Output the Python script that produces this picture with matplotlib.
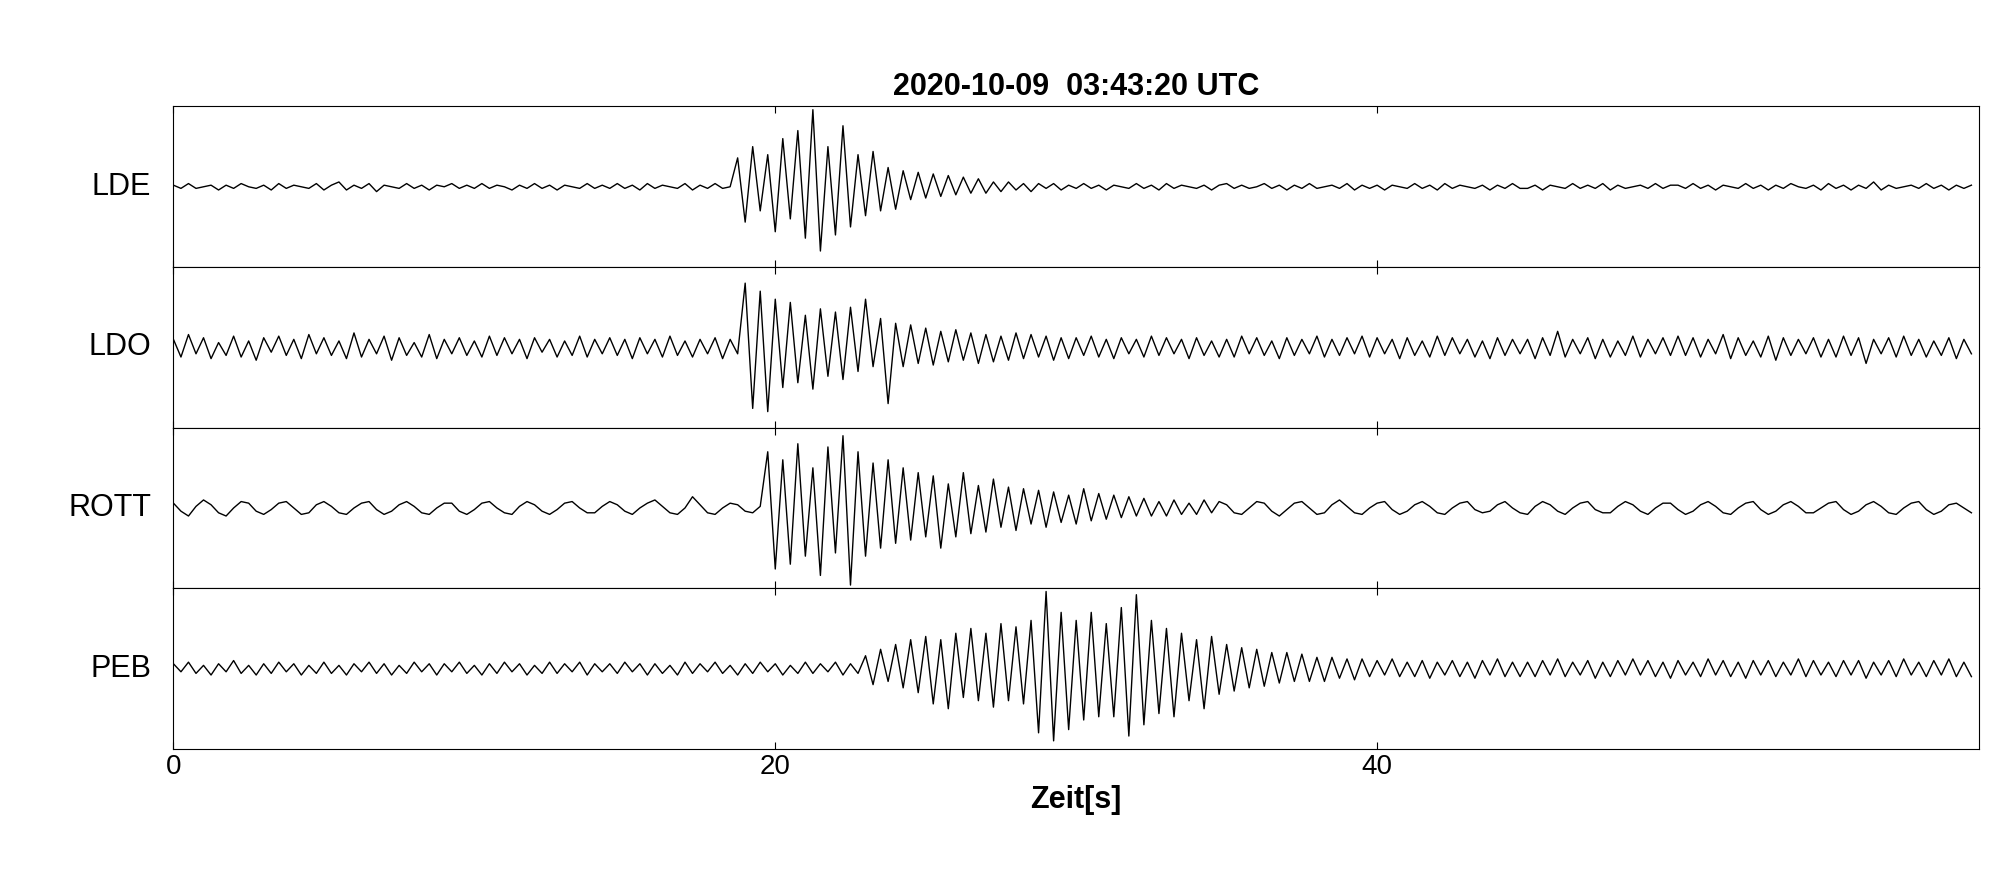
import numpy as np
import matplotlib
matplotlib.use("Agg")
from matplotlib import pyplot as plt

plt.rcParams['font.family'] = ['Liberation Sans', 'DejaVu Sans']

dt = 0.25
stations = ["LDE", "LDO", "ROTT", "PEB"]
title = "2020-10-09  03:43:20 UTC"
xticks = [0, 20, 40]

lde = """
1 -1 2 -1 0 1 -2 1 -1 2 0 -1 1 -2 2 -1 1 0 -1 2
-2 1 3 -2 1 -1 2 -3 1 0 -1 2 -1 1 -2 1 0 2 -1 1
-1 2 -1 1 0 -2 1 -1 2 -1 1 -2 1 0 -1 2 -1 1 -1 2
-1 1 -2 2 -1 1 0 -1 2 -2 1 -1 2 -1 0 18 -22 25 -15 20
-28 30 -20 35 -32 48 -40 25 -30 38 -25 20 -18 22 -15 12 -14 10 -8 9
-7 8 -6 7 -5 6 -4 5 -4 3 -3 3 -2 2 -3 2 -1 2 -2 1
-1 2 -1 1 -2 1 0 -1 2 -1 1 -2 2 -1 1 0 -1 1 -2 1
2 -1 1 -1 0 2 -1 1 -2 1 -1 2 -1 0 1 -1 2 -2 1 -1
1 -2 1 0 -1 2 -1 1 -2 2 -1 1 0 -1 1 -2 1 -1 2 -1
-1 1 -2 1 0 -1 2 -1 1 -1 2 -2 1 -1 0 1 -1 2 -1 1
1 -1 2 -1 1 -2 1 0 -1 2 -1 1 -2 1 -1 2 0 -1 1 -2
2 -1 1 -2 1 -1 3 -2 1 -1 0 1 -1 2 -1 1 -2 1 -1 1
"""
ldo = """
5 -6 8 -4 6 -7 3 -5 7 -6 4 -8 6 -3 7 -5 5 -7 8 -4
6 -5 4 -7 9 -6 5 -4 7 -8 6 -5 3 -6 8 -7 5 -4 6 -5
4 -6 7 -5 6 -4 5 -7 6 -3 5 -6 4 -5 7 -6 5 -4 6 -5
5 -7 6 -4 5 -6 7 -5 4 -6 5 -4 6 -7 5 -4 40 -38 35 -40
30 -25 28 -22 20 -26 24 -18 22 -20 25 -15 30 -12 18 -35 15 -12 14 -10
12 -11 10 -9 11 -8 9 -10 8 -9 7 -8 9 -7 8 -6 7 -8 6 -7
6 -5 7 -6 5 -7 6 -4 5 -6 7 -5 6 -4 5 -7 6 -5 4 -6
5 -6 7 -4 6 -5 4 -7 6 -5 5 -4 7 -6 5 -5 6 -4 7 -6
6 -4 5 -7 6 -5 4 -6 7 -5 6 -4 5 -6 4 -7 6 -5 5 -4
5 -7 6 -5 10 -6 5 -4 6 -7 5 -6 4 -5 7 -6 5 -4 6 -5
7 -5 6 -6 5 -4 8 -7 6 -5 4 -6 7 -8 6 -5 5 -4 6 -6
5 -6 7 -5 6 -10 5 -4 6 -6 7 -5 5 -6 4 -5 6 -7 5 -4
"""
rott = """
3 -2 -5 1 5 2 -3 -5 0 4 3 -2 -4 -1 3 4 0 -4 -3 2
4 1 -3 -4 0 3 4 -1 -4 -2 2 4 1 -3 -4 0 3 3 -2 -4
-1 3 4 0 -3 -4 1 4 2 -2 -4 -1 3 4 0 -3 -3 1 4 2
-2 -4 0 3 5 1 -3 -4 0 7 2 -3 -4 0 3 2 -2 -3 1 35
-38 30 -35 40 -30 25 -42 38 -28 45 -48 35 -30 28 -25 30 -22 25 -20 22
-18 20 -25 15 -18 22 -16 14 -15 18 -12 13 -14 12 -10 11 -12 10 -9 8
-10 12 -8 9 -7 8 -6 7 -5 6 -5 4 -5 5 -4 3 -4 5 -3 4
2 -3 -4 0 4 3 -2 -5 -1 3 4 0 -4 -3 2 5 1 -3 -4 0
3 4 -1 -4 -2 2 4 1 -3 -4 0 3 4 -1 -3 -2 2 4 0 -3
-4 1 4 2 -2 -4 0 3 4 -1 -3 -3 1 4 2 -2 -4 0 3 3
-1 -4 -2 2 4 1 -3 -4 0 3 4 -1 -4 -2 2 4 1 -3 -3 0
3 4 -1 -4 -2 2 4 1 -3 -4 0 3 4 -1 -4 -2 2 3 0 -3
"""
peb = """
3 -2 4 -3 2 -4 3 -2 5 -3 2 -4 3 -3 4 -2 3 -4 2 -3
4 -3 2 -4 3 -2 4 -3 3 -4 2 -3 4 -2 3 -4 3 -2 4 -3
2 -4 3 -3 4 -2 3 -4 2 -3 4 -3 3 -2 4 -4 3 -2 3 -3
4 -2 3 -4 3 -3 2 -4 4 -3 3 -2 4 -3 2 -4 3 -3 4 -2
3 -4 2 -3 4 -3 3 -2 4 -4 3 -3 8 -10 12 -8 15 -12 18 -15
20 -22 18 -25 22 -18 25 -20 22 -24 28 -20 26 -22 30 -40 48 -45 35 -38
30 -32 35 -30 28 -30 38 -42 46 -35 30 -28 25 -30 22 -20 18 -25 20 -16
15 -14 13 -12 12 -11 10 -9 10 -8 9 -8 7 -8 7 -6 6 -7 6 -5
5 -4 6 -5 4 -5 5 -6 4 -4 5 -5 4 -6 5 -4 6 -5 4 -5
4 -5 5 -4 6 -5 4 -4 5 -6 4 -5 5 -4 6 -4 5 -5 4 -6
5 -4 4 -5 6 -4 5 -5 4 -6 5 -4 5 -5 4 -4 6 -5 5 -4
4 -5 5 -4 5 -6 4 -4 5 -5 6 -4 4 -5 5 -4 6 -5 4 -5
"""
traces = [np.array(s.split(), dtype=float) for s in (lde, ldo, rott, peb)]

fig = plt.figure(figsize=(20.05, 8.8), dpi=100)
left, right, bottom, top = 0.0865, 0.987, 0.149, 0.879
h = (top - bottom) / 4
for i, (name, y) in enumerate(zip(stations, traces)):
    ax = fig.add_axes([left, top - (i + 1) * h, right - left, h])
    t = np.arange(len(y)) * dt
    ax.plot(t, y, color="black", lw=1.0)
    ax.set_xlim(0, 60)
    ax.set_ylim(-50, 50)
    ax.set_yticks([])
    ax.set_xticks(xticks)
    ax.tick_params(axis="x", direction="in", length=5, top=True, bottom=True)
    ax.set_ylabel(name, rotation=0, ha="right", va="center", fontsize=22, labelpad=16)
    if i == 0:
        ax.set_title(title, fontsize=22, fontweight="bold", pad=8)
    if i < 3:
        ax.set_xticklabels([])
    else:
        ax.tick_params(axis="x", labelsize=20)
        ax.set_xlabel("Zeit[s]", fontsize=22, fontweight="bold")

fig.savefig("out.png", dpi=100)
